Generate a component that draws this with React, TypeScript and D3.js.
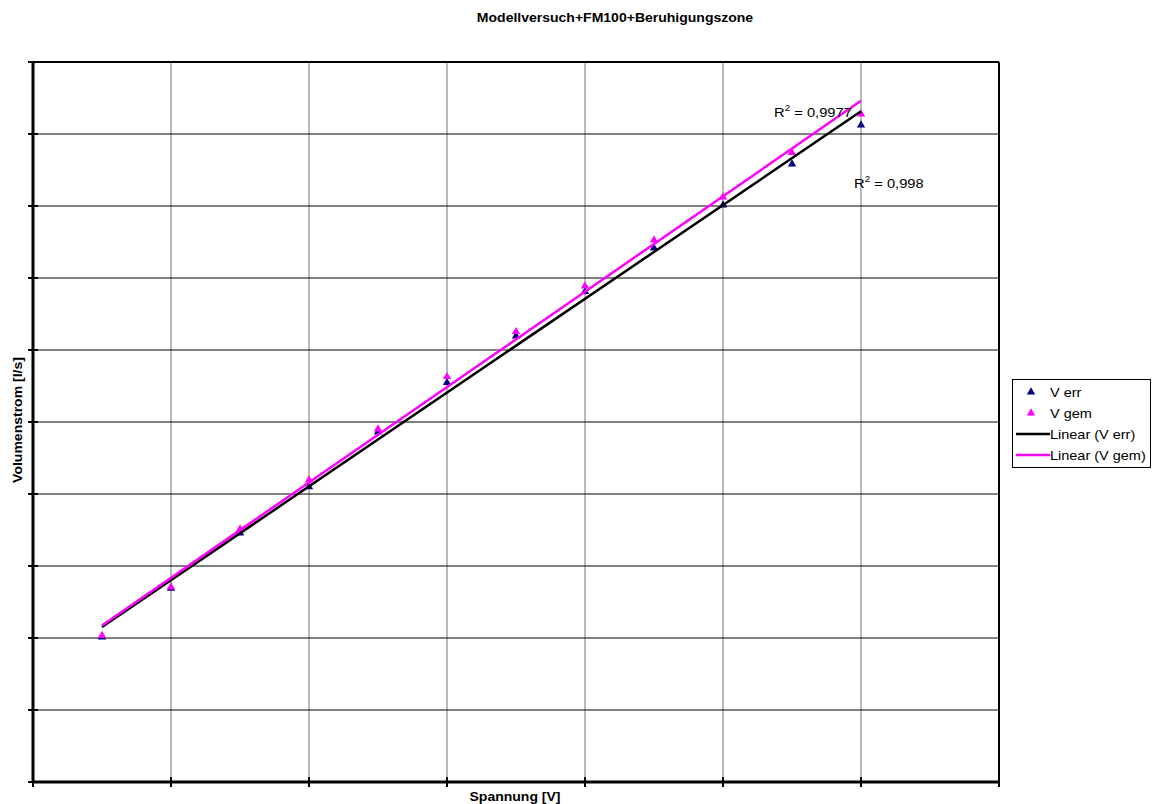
import React from "react";
import * as d3 from "d3";

const xValues = [0.5, 1, 1.5, 2, 2.5, 3, 3.5, 4, 4.5, 5, 5.5, 6];
const vErr = [2.014, 2.688, 3.458, 4.101, 4.861, 5.546, 6.194, 6.81, 7.417, 8.014, 8.583, 9.125];
const vGem = [2.035, 2.708, 3.514, 4.194, 4.903, 5.629, 6.254, 6.889, 7.528, 8.125, 8.74, 9.278];
const xTicks = [0, 1, 2, 3, 4, 5, 6, 7];
const yTicks = [0, 1, 2, 3, 4, 5, 6, 7, 8, 9, 10];
const r2Labels = [
  { text: "0,9977", x: 5.37, y: 9.236 },
  { text: "0,998", x: 5.95, y: 8.25 },
];
const legendItems = [
  { label: "V err", kind: "marker", color: "#000080" },
  { label: "V gem", kind: "marker", color: "#FF00FF" },
  { label: "Linear (V err)", kind: "line", color: "#000000" },
  { label: "Linear (V gem)", kind: "line", color: "#FF00FF" },
];

function fit(xs: number[], ys: number[]) {
  const mx = d3.mean(xs)!;
  const my = d3.mean(ys)!;
  let num = 0;
  let den = 0;
  xs.forEach((x, i) => {
    num += (x - mx) * (ys[i] - my);
    den += (x - mx) * (x - mx);
  });
  const b = num / den;
  const a = my - b * mx;
  return (x: number) => a + b * x;
}

const SX = 1.15;

export default function App() {
  const W = 1152;
  const H = 804;
  const left = 33, right = 999, top = 62, bottom = 782;
  const x = d3.scaleLinear().domain([0, 7]).range([left, right]);
  const y = d3.scaleLinear().domain([0, 10]).range([bottom, top]);
  const tri = d3.symbol().type(d3.symbolTriangle).size(30)()!;
  const fErr = fit(xValues, vErr);
  const fGem = fit(xValues, vGem);
  const x0 = xValues[0];
  const x1 = xValues[xValues.length - 1];
  const font = "Arial, 'Liberation Sans', sans-serif";

  return (
    <svg width={W} height={H} style={{ position: "absolute", left: 0, top: 0, background: "#fff" }} fontFamily={font}>
      <rect x={0} y={0} width={W} height={H} fill="#fff" />
      <g transform={`translate(615,22) scale(${SX},1)`}>
        <text x={0} y={0} textAnchor="middle" fontSize={12.2} fontWeight="bold">
          Modellversuch+FM100+Beruhigungszone
        </text>
      </g>
      {/* grid */}
      {xTicks.slice(1, -1).map((t) => (
        <line key={"vx" + t} x1={x(t)} x2={x(t)} y1={top} y2={bottom} stroke="#000" strokeWidth={1} opacity={0.55} />
      ))}
      {yTicks.slice(1, -1).map((t) => (
        <line key={"hy" + t} x1={left} x2={right} y1={y(t)} y2={y(t)} stroke="#000" strokeWidth={1} />
      ))}
      {/* frame */}
      <line x1={left} x2={right} y1={top} y2={top} stroke="#000" strokeWidth={2} />
      <line x1={right} x2={right} y1={top} y2={bottom} stroke="#000" strokeWidth={2} />
      <line x1={left} x2={left} y1={top} y2={bottom + 1} stroke="#000" strokeWidth={3} />
      <line x1={left} x2={right} y1={bottom} y2={bottom} stroke="#000" strokeWidth={3} />
      {yTicks.map((t) => (
        <line key={"ty" + t} x1={left - 5} x2={left + 5} y1={y(t)} y2={y(t)} stroke="#000" strokeWidth={2} />
      ))}
      {xTicks.map((t) => (
        <line key={"tx" + t} x1={x(t)} x2={x(t)} y1={bottom - 5} y2={bottom + 5} stroke="#000" strokeWidth={2} />
      ))}
      {/* markers */}
      {xValues.map((xv, i) => (
        <path key={"e" + i} d={tri} transform={`translate(${x(xv)},${y(vErr[i])})`} fill="#000080" />
      ))}
      {xValues.map((xv, i) => (
        <path key={"g" + i} d={tri} transform={`translate(${x(xv)},${y(vGem[i])})`} fill="#FF00FF" />
      ))}
      {/* trend lines */}
      <line x1={x(x0)} y1={y(fErr(x0))} x2={x(x1)} y2={y(fErr(x1))} stroke="#000" strokeWidth={2.5} />
      <line x1={x(x0)} y1={y(fGem(x0))} x2={x(x1)} y2={y(fGem(x1))} stroke="#FF00FF" strokeWidth={2.5} />
      {/* R2 labels */}
      {r2Labels.map((l, i) => (
        <g key={"r" + i} transform={`translate(${x(l.x)},${y(l.y)}) scale(${SX},1)`}>
          <text x={0} y={0} fontSize={12.8}>
            R<tspan dy={-6} fontSize={8.5}>2</tspan>
            <tspan dy={6}>{" = " + l.text}</tspan>
          </text>
        </g>
      ))}
      {/* axis titles */}
      <g transform={`translate(515,801) scale(${SX},1)`}>
        <text x={0} y={0} textAnchor="middle" fontSize={12.2} fontWeight="bold">
          Spannung [V]
        </text>
      </g>
      <g transform={`translate(22,420) rotate(-90) scale(${SX},1)`}>
        <text x={0} y={0} textAnchor="middle" fontSize={12.2} fontWeight="bold">
          Volumenstrom [l/s]
        </text>
      </g>
      {/* legend */}
      <rect x={1012.5} y={379.5} width={138} height={88} fill="#fff" stroke="#000" strokeWidth={1} />
      {legendItems.map((it, i) => {
        const cy = 392 + i * 21;
        return (
          <g key={"l" + i}>
            {it.kind === "marker" ? (
              <path d={tri} transform={`translate(1031,${cy})`} fill={it.color} />
            ) : (
              <line x1={1016} x2={1050} y1={cy} y2={cy} stroke={it.color} strokeWidth={2.5} />
            )}
            <g transform={`translate(1050,${cy + 4.5}) scale(${SX},1)`}>
              <text x={0} y={0} fontSize={12.6}>
                {it.label}
              </text>
            </g>
          </g>
        );
      })}
    </svg>
  );
}
